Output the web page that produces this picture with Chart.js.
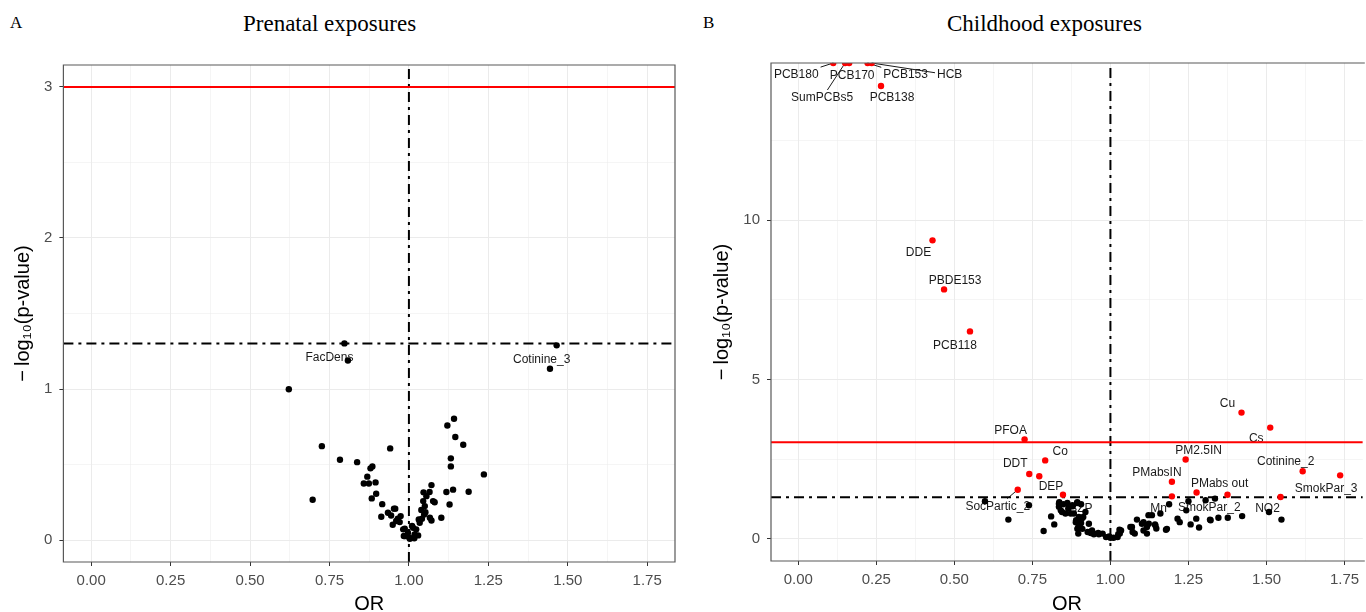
<!DOCTYPE html>
<html>
<head>
<meta charset="utf-8">
<title>Prenatal and childhood exposures – volcano plots</title>
<script src="https://cdn.jsdelivr.net/npm/chart.js@4.4.0/dist/chart.umd.min.js"></script>
<style>
    html, body { margin: 0; padding: 0; background: #fff; overflow: hidden; }
    #fig { position: relative; width: 1366px; height: 612px; }
    .panel { position: absolute; top: 0; height: 612px; }
    .tag, .ttl { position: absolute; font-family: "Liberation Serif", "Times New Roman", serif; color: #000; line-height: 1; white-space: nowrap; }
    .tag { font-size: 17px; }
    .ttl { font-size: 23px; }
</style>
</head>
<body>
<div id="fig">
    <div class="tag" style="left:10px;top:14px">A</div>
    <div class="ttl" style="left:243px;top:12px">Prenatal exposures</div>
    <div class="tag" style="left:703px;top:14px">B</div>
    <div class="ttl" style="left:947px;top:12px">Childhood exposures</div>
    <div class="panel" style="left:0;width:690px"><canvas id="prenatal"></canvas></div>
    <div class="panel" style="left:690px;width:676px"><canvas id="childhood"></canvas></div>
</div>
<script>
const FONT = '"Liberation Sans", Arial, Helvetica, sans-serif';
Chart.defaults.font.family = FONT;

// --- tick labels ---
const xTicks = [0, 0.25, 0.5, 0.75, 1, 1.25, 1.5, 1.75];
const xTickLabels = ['0.00', '0.25', '0.50', '0.75', '1.00', '1.25', '1.50', '1.75'];
const prenatalYTicks = [0, 1, 2, 3];
const childhoodYTicks = [0, 5, 10];

// --- reference lines ---
const nullOR = 1;
const nominalLogP = 1.301;          // p = 0.05
const prenatalBonfLogP = 3;
const childhoodBonfLogP = 3.03;

// --- prenatal exposures (first entries are the labelled ones) ---
const prenatalNames = ['FacDens', 'Cotinine_3'];
const prenatalOR = [
    0.797, 1.465, 0.808, 0.622, 1.444, 1.142, 1.121, 1.146, 1.171, 1.132,
    1.132, 1.236, 0.726, 0.941, 0.783, 0.837, 0.885, 0.879, 0.869, 0.858,
    0.874, 0.895, 0.897, 0.883, 0.697, 0.916, 0.913, 0.934, 0.957, 0.944,
    0.965, 0.974, 0.949, 0.971, 0.987, 0.997, 0.984, 1.002, 1.013, 1.023,
    1.029, 1.018, 1.034, 1.041, 1.048, 1.071, 1.102, 1.039, 1.050, 1.045,
    1.055, 1.065, 1.071, 1.076, 1.081, 1.118, 1.139, 1.188, 1.128, 1.046,
    0.989, 1.003, 1.010, 1.031, 1.052, 1.066, 0.953, 0.960, 0.982, 1.017
];
const prenatalLogP = [
    1.302, 1.289, 1.189, 0.999, 1.134, 0.803, 0.759, 0.682, 0.631, 0.541,
    0.488, 0.435, 0.622, 0.607, 0.532, 0.516, 0.488, 0.475, 0.420, 0.375,
    0.375, 0.382, 0.307, 0.276, 0.267, 0.238, 0.155, 0.181, 0.208, 0.163,
    0.141, 0.159, 0.102, 0.119, 0.075, 0.049, 0.027, 0.016, 0.082, 0.071,
    0.031, 0.038, 0.115, 0.141, 0.170, 0.130, 0.148, 0.199, 0.225, 0.258,
    0.291, 0.318, 0.364, 0.258, 0.251, 0.318, 0.334, 0.320, 0.236, 0.316,
    0.026, 0.009, 0.093, 0.137, 0.185, 0.148, 0.208, 0.126, 0.071, 0.012
];

// --- childhood exposures, significant (red); first entries labelled ---
const childhoodSigNames = [
    'PCB180', 'SumPCBs5', 'PCB170', 'PCB153', 'HCB', 'PCB138', 'DDE', 'PBDE153', 'PCB118',
    'Cu', 'Cs', 'PFOA', 'Co', 'DDT', 'SocPartic_2', 'DEP', 'PM2.5IN', 'PMabsIN', 'PMabs out',
    'Cotinine_2', 'SmokPar_3'
];
const childhoodSigOR = [
    0.112, 0.150, 0.163, 0.222, 0.235, 0.265, 0.430, 0.467, 0.550,
    1.420, 1.512, 0.725, 0.791, 0.740, 0.703, 0.848, 1.241, 1.197, 1.276,
    1.616, 1.736,
    0.772, 1.197, 1.375, 1.545
];
const childhoodSigLogP = [
    14.94, 14.94, 14.94, 14.94, 14.94, 14.22, 9.37, 7.83, 6.51,
    3.96, 3.49, 3.12, 2.46, 2.03, 1.54, 1.38, 2.49, 1.79, 1.45,
    2.12, 1.99,
    1.96, 1.33, 1.38, 1.31
];

// --- childhood exposures, not significant (black); first entries labelled ---
const childhoodNames = ['BZP', 'Mn', 'SmokPar_2', 'NO2'];
const childhoodOR = [
    0.899, 1.215, 1.275, 1.548,
    0.598, 0.673, 0.739, 0.786, 0.810, 0.820, 0.835, 0.849, 0.862, 0.835,
    0.845, 0.856, 0.865, 0.879, 0.893, 0.906, 0.883, 0.890, 0.906, 0.897,
    0.913, 0.920, 0.897, 0.931, 0.927, 0.941, 0.948, 0.961, 0.975, 0.996,
    1.010, 1.023, 1.030, 1.034, 1.064, 1.071, 1.078, 1.085, 1.106, 1.106,
    1.117, 1.117, 1.123, 1.133, 1.143, 1.147, 1.160, 1.178, 1.188, 1.222,
    1.243, 1.250, 1.257, 1.284, 1.305, 1.319, 1.335, 1.346, 1.376, 1.422,
    1.508, 0.836, 0.878, 0.894, 0.841, 0.873, 0.908, 0.889, 0.901, 0.894,
    0.910, 0.937, 0.947, 0.963, 0.986, 1.000, 1.025, 1.029, 1.101, 1.181,
    1.321, 1.069, 1.144, 1.122
];
const childhoodLogP = [
    0.68, 0.63, 0.63, 0.60,
    1.18, 0.60, 1.05, 0.24, 0.70, 0.45, 1.10, 1.08, 1.12, 1.00,
    0.84, 0.79, 0.95, 1.02, 1.12, 1.08, 0.79, 0.58, 0.49, 0.37,
    0.68, 0.84, 0.16, 0.47, 0.21, 0.26, 0.16, 0.18, 0.16, 0.07,
    0.03, 0.05, 0.16, 0.26, 0.37, 0.21, 0.16, 0.60, 0.52, 0.26,
    0.37, 0.16, 0.47, 0.74, 0.45, 0.32, 0.79, 0.28, 1.08, 0.52,
    0.89, 1.18, 0.45, 0.35, 1.21, 0.60, 1.26, 0.66, 0.66, 0.71,
    0.84, 1.15, 1.05, 1.15, 0.89, 0.79, 0.63, 0.52, 0.42, 0.31,
    0.31, 0.18, 0.14, 0.14, 0.05, 0.03, 0.14, 0.28, 0.47, 0.31,
    0.58, 0.37, 0.42, 0.74
];

// label placement (pixel nudge of the text centre from its point, optional leader line)
const labelNudge = {
    FacDens: [-15, 14], Cotinine_3: [-15, 14],
    PCB180: [-37, 12, true], SumPCBs5: [-23, 35, true], PCB170: [3, 13],
    PCB153: [38, 12, true], HCB: [78, 12, true], PCB138: [11, 12],
    DDE: [-14, 12], PBDE153: [11, -9], PCB118: [-15, 14],
    Cu: [-14, -9], Cs: [-14, 11], PFOA: [-14, -9], Co: [15, -9], DDT: [-14, -10],
    SocPartic_2: [-20, 17, true], DEP: [-12, -8], 'PM2.5IN': [13, -9],
    PMabsIN: [-15, -9], 'PMabs out': [23, -9], Cotinine_2: [-17, -10], SmokPar_3: [-14, 13],
    BZP: [2, -8], Mn: [-19, -10], SmokPar_2: [13, -11], NO2: [-14, -11]
};

// --- helpers ---
function toPoints(xs, ys) {
    return xs.map((x, i) => ({ x: x, y: ys[i] }));
}

function labelled(names, xs, ys) {
    return names.map((name, i) => ({ name: name, x: xs[i], y: ys[i] }));
}

// major ticks plus the ggplot-style minor grid halfway between them
function withMinor(major, min, max) {
    const step = major[1] - major[0];
    const out = [{ value: major[0] - step / 2, isMajor: false }];
    major.forEach(v => {
        out.push({ value: v, isMajor: true });
        out.push({ value: v + step / 2, isMajor: false });
    });
    return out.filter(t => t.value >= min && t.value <= max);
}

const panelFrame = {
    id: 'panelFrame',
    afterDatasetsDraw(chart, args, opts) {
        const { ctx, chartArea: a } = chart;
        ctx.save();
        ctx.strokeStyle = '#595959';
        ctx.lineWidth = 1.2;
        ctx.beginPath();
        if (opts.openRight) {
            ctx.moveTo(a.right + 2, a.top);
            ctx.lineTo(a.left, a.top);
            ctx.lineTo(a.left, a.bottom);
            ctx.lineTo(a.right + 2, a.bottom);
        } else {
            ctx.rect(a.left, a.top, a.right - a.left, a.bottom - a.top);
        }
        ctx.stroke();
        ctx.restore();
    }
};

function labelLayer(items) {
    return {
        id: 'labelLayer',
        beforeDatasetsDraw(chart) {
            const { ctx, scales: { x, y } } = chart;
            ctx.save();
            ctx.font = '12px ' + FONT;
            ctx.fillStyle = '#1a1a1a';
            ctx.strokeStyle = '#1a1a1a';
            ctx.lineWidth = 1;
            ctx.textAlign = 'center';
            ctx.textBaseline = 'middle';
            items.forEach(it => {
                const nudge = labelNudge[it.name];
                const px = x.getPixelForValue(it.x);
                const py = y.getPixelForValue(it.y);
                const tx = px + nudge[0];
                const ty = py + nudge[1];
                if (nudge[2]) {
                    // segment from the point towards the text, stopping at its box
                    const hw = ctx.measureText(it.name).width / 2 + 2;
                    const hh = 8;
                    const dx = tx - px, dy = ty - py;
                    const ex = Math.abs(dx) > hw ? (Math.abs(dx) - hw) / Math.abs(dx) : 0;
                    const ey = Math.abs(dy) > hh ? (Math.abs(dy) - hh) / Math.abs(dy) : 0;
                    const t = Math.max(ex, ey);
                    ctx.beginPath();
                    ctx.moveTo(px, py);
                    ctx.lineTo(px + dx * t, py + dy * t);
                    ctx.stroke();
                }
                ctx.fillText(it.name, tx, ty);
            });
            ctx.restore();
        }
    };
}

function volcano(p) {
    const xMajor = xTicks;
    const pointStyle = { pointRadius: 3.2, pointHoverRadius: 3.2, pointBorderWidth: 0, clip: 0 };
    const lineStyle = { showLine: true, pointRadius: 0, pointHoverRadius: 0, fill: false };
    const tickFont = { size: 15, family: FONT };
    const titleFont = { size: 20, family: FONT, lineHeight: 1 };

    return new Chart(document.getElementById(p.canvas), {
        type: 'scatter',
        data: {
            datasets: [
                Object.assign({ data: toPoints(p.sigOR, p.sigLogP), backgroundColor: '#ff0000', order: 0 }, pointStyle),
                Object.assign({ data: toPoints(p.or, p.logP), backgroundColor: '#000000', order: 1 }, pointStyle),
                Object.assign({ data: [{ x: p.xMin, y: p.bonf }, { x: p.xMax, y: p.bonf }],
                    borderColor: '#ff0000', borderWidth: 2, order: 2 }, lineStyle),
                Object.assign({ data: [{ x: p.xMin, y: nominalLogP }, { x: p.xMax, y: nominalLogP }],
                    borderColor: '#000000', borderWidth: 2, borderDash: [10, 5, 3, 5], order: 2 }, lineStyle),
                Object.assign({ data: [{ x: nullOR, y: p.yMin }, { x: nullOR, y: p.yMax }],
                    borderColor: '#000000', borderWidth: 2, borderDash: [10, 5, 3, 5], order: 2 }, lineStyle)
            ]
        },
        options: {
            responsive: true,
            maintainAspectRatio: false,
            animation: false,
            events: [],
            layout: { padding: p.pad },
            plugins: {
                legend: { display: false },
                tooltip: { enabled: false },
                panelFrame: { openRight: p.openRight }
            },
            scales: {
                x: {
                    type: 'linear',
                    min: p.xMin,
                    max: p.xMax,
                    afterBuildTicks: ax => { ax.ticks = withMinor(xMajor, p.xMin, p.xMax); },
                    afterFit: ax => { ax.height = p.xAxisHeight; },
                    border: { display: false },
                    grid: {
                        color: '#ebebeb',
                        lineWidth: c => (c.tick && c.tick.isMajor ? 1 : 0.5),
                        tickLength: 4,
                        tickWidth: 1,
                        tickColor: c => (c.tick && c.tick.isMajor ? '#333333' : 'rgba(0,0,0,0)')
                    },
                    ticks: {
                        autoSkip: false,
                        maxRotation: 0,
                        padding: 6,
                        color: '#4d4d4d',
                        font: tickFont,
                        callback: v => { const i = xMajor.indexOf(v); return i < 0 ? '' : xTickLabels[i]; }
                    },
                    title: { display: true, text: 'OR', color: '#000000', font: titleFont, padding: { top: 0, bottom: -2 } }
                },
                y: {
                    type: 'linear',
                    min: p.yMin,
                    max: p.yMax,
                    afterBuildTicks: ax => { ax.ticks = withMinor(p.yTicks, p.yMin, p.yMax); },
                    afterFit: ax => { ax.width = p.yAxisWidth; },
                    border: { display: false },
                    grid: {
                        color: '#ebebeb',
                        lineWidth: c => (c.tick && c.tick.isMajor ? 1 : 0.5),
                        tickLength: 4,
                        tickWidth: 1,
                        tickColor: c => (c.tick && c.tick.isMajor ? '#333333' : 'rgba(0,0,0,0)')
                    },
                    ticks: {
                        autoSkip: false,
                        padding: 7,
                        color: '#4d4d4d',
                        font: tickFont,
                        callback: v => (p.yTicks.indexOf(v) < 0 ? '' : String(v))
                    },
                    title: {
                        display: true,
                        text: '\u2212\u2009log\u2081\u2080(p-value)',
                        color: '#000000',
                        font: titleFont,
                        padding: { top: p.yTitlePad, bottom: 0 }
                    }
                }
            }
        },
        plugins: [panelFrame, labelLayer(p.labels)]
    });
}

volcano({
    canvas: 'prenatal',
    xMin: -0.0875, xMax: 1.8375,
    yMin: -0.145, yMax: 3.145,
    yTicks: prenatalYTicks,
    bonf: prenatalBonfLogP,
    sigOR: [], sigLogP: [],
    or: prenatalOR, logP: prenatalLogP,
    labels: labelled(prenatalNames, prenatalOR, prenatalLogP),
    pad: { left: 0, top: 65, right: 15, bottom: 0 },
    yAxisWidth: 63.4, xAxisHeight: 50, yTitlePad: 13,
    openRight: false
});

volcano({
    canvas: 'childhood',
    xMin: -0.0875, xMax: 1.8086,
    yMin: -0.70, yMax: 14.94,
    yTicks: childhoodYTicks,
    bonf: childhoodBonfLogP,
    sigOR: childhoodSigOR, sigLogP: childhoodSigLogP,
    or: childhoodOR, logP: childhoodLogP,
    labels: labelled(childhoodSigNames, childhoodSigOR, childhoodSigLogP)
        .concat(labelled(childhoodNames, childhoodOR, childhoodLogP)),
    pad: { left: 0, top: 63, right: 0, bottom: 0 },
    yAxisWidth: 81, xAxisHeight: 51, yTitlePad: 22,
    openRight: true
});
</script>
</body>
</html>
